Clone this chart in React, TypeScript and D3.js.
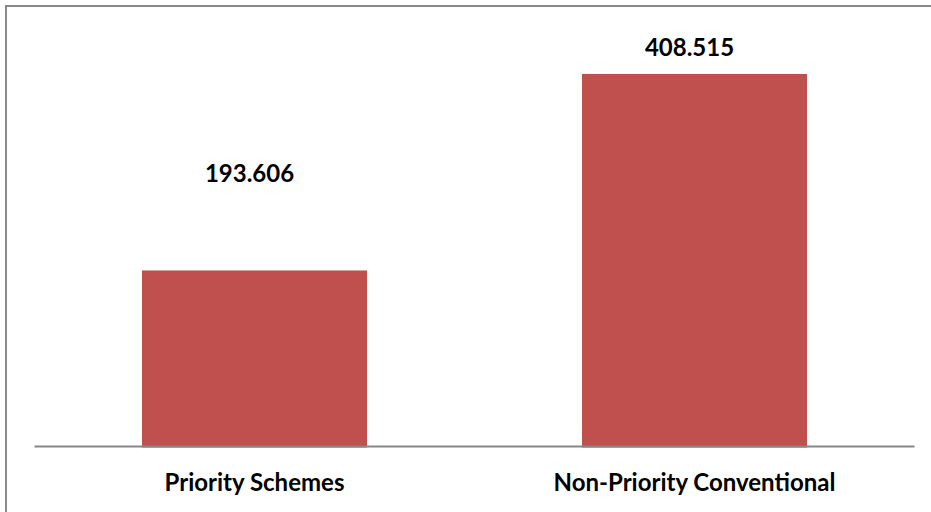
import React from "react";
import * as d3 from "d3";

const categories = ["Priority Schemes", "Non-Priority Conventional"];
const values = [193.606, 408.515];
const valueLabels = ["193.606", "408.515"];

const W = 931;
const H = 512;
const LABEL_OFFSETS = [88, 18];
const FONT = "Lato, 'Open Sans', sans-serif";

export default function App() {
  const x = d3
    .scaleBand<string>()
    .domain(categories)
    .range([34.5, 914.5])
    .paddingInner(0.4886)
    .paddingOuter(0.2443);
  const y = d3.scaleLinear().domain([0, 450]).range([447.5, 36]);
  const base = y(0);

  return (
    <svg
      width={W}
      height={H}
      style={{ position: "absolute", left: 0, top: 0, background: "#fff" }}
    >
      <rect x={0} y={0} width={W} height={H} fill="#fff" />
      {/* frame */}
      <line x1={6} y1={6} x2={W} y2={6} stroke="#8a8a8a" strokeWidth={2} />
      <line x1={6} y1={5} x2={6} y2={H} stroke="#8a8a8a" strokeWidth={2} />
      {/* bars */}
      {categories.map((c, i) => (
        <rect
          key={c}
          x={x(c)}
          y={y(values[i])}
          width={x.bandwidth()}
          height={base - y(values[i])}
          fill="#C0504D"
        />
      ))}
      {/* axis line */}
      <line x1={34.5} y1={446.5} x2={914.5} y2={446.5} stroke="#868686" strokeWidth={2} />
      {/* value labels */}
      {categories.map((c, i) => (
        <text
          key={"v" + c}
          x={(x(c) as number) + x.bandwidth() / 2 - 5}
          y={y(values[i]) - LABEL_OFFSETS[i]}
          textAnchor="middle"
          fontFamily={FONT}
          fontWeight="bold"
          fontSize={24}
          fill="#000"
        >
          {valueLabels[i]}
        </text>
      ))}
      {/* category labels */}
      {categories.map((c) => (
        <text
          key={"c" + c}
          x={(x(c) as number) + x.bandwidth() / 2}
          y={491}
          textAnchor="middle"
          fontFamily={FONT}
          fontWeight="bold"
          fontSize={24}
          fill="#000"
        >
          {c}
        </text>
      ))}
    </svg>
  );
}
